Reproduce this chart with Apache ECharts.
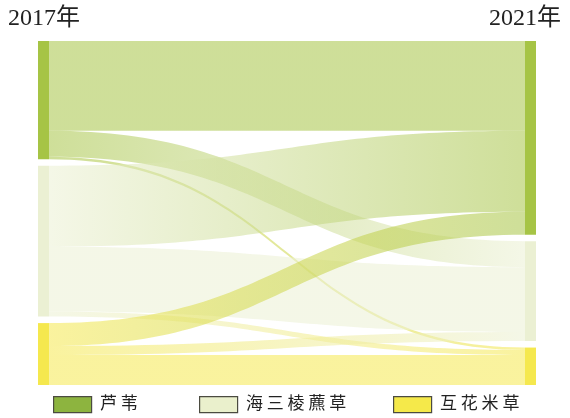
<!DOCTYPE html>
<html>
<head>
<meta charset="utf-8">
<script src="https://cdn.jsdelivr.net/npm/echarts@6/dist/echarts.min.js"></script>
<style>html,body{margin:0;padding:0;background:#fff}#c{width:570px;height:418px}</style>
</head>
<body>
<div id="c"></div>
<script>
const years = ['2017年', '2021年'];
const types = ['芦苇', '海三棱藨草', '互花米草'];
const legendLabels = ['芦 苇', '海 三 棱 藨 草', '互 花 米 草'];
const nodeColors = ['#a6c445', '#ebf0d3', '#f5e84e'];
const legendColors = ['#8db43f', '#eaf0cc', '#f5e94a'];
// flows: rows = 2017 type, cols = 2021 type
const flow2017to2021 = [
  [90, 26, 2.5],
  [81, 65, 5],
  [23, 9, 30]
];

const nodes = [];
years.forEach((y, yi) => {
  types.forEach((t, ti) => {
    nodes.push({ name: t + '_' + y, depth: yi, itemStyle: { color: nodeColors[ti] } });
  });
});
const links = [];
flow2017to2021.forEach((row, i) => {
  row.forEach((v, j) => {
    links.push({ source: types[i] + '_' + years[0], target: types[j] + '_' + years[1], value: v });
  });
});

const chart = echarts.init(document.getElementById('c'), null, { renderer: 'canvas' });
const legendX = [53, 199, 393];
const graphics = [];
types.forEach((t, i) => {
  graphics.push({
    type: 'rect', left: legendX[i], top: 396,
    shape: { width: 38, height: 16 },
    style: { fill: legendColors[i], stroke: '#4b4b40', lineWidth: 1.2 }
  });
  graphics.push({
    type: 'text', left: legendX[i] + 47, top: 394,
    style: { text: legendLabels[i], font: '17px "Noto Sans CJK SC"', fill: '#222' }
  });
});

chart.setOption({
  animation: false,
  title: [
    { text: years[0], left: 3, top: 2, textStyle: { fontFamily: '"Liberation Serif", "Noto Sans CJK SC"', fontSize: 24, fontWeight: 'normal', color: '#222' } },
    { text: years[1], right: 4, top: 2, textStyle: { fontFamily: '"Liberation Serif", "Noto Sans CJK SC"', fontSize: 24, fontWeight: 'normal', color: '#222' } }
  ],
  graphic: graphics,
  series: [{
    type: 'sankey',
    left: 38, right: 34, top: 41, bottom: 33,
    nodeWidth: 11,
    nodeGap: 6.5,
    layoutIterations: 0,
    nodeAlign: 'justify',
    draggable: false,
    label: { show: false },
    emphasis: { disabled: true },
    data: nodes,
    links: links,
    lineStyle: { color: 'gradient', opacity: 0.55, curveness: 0.5 }
  }]
});
</script>
</body>
</html>
